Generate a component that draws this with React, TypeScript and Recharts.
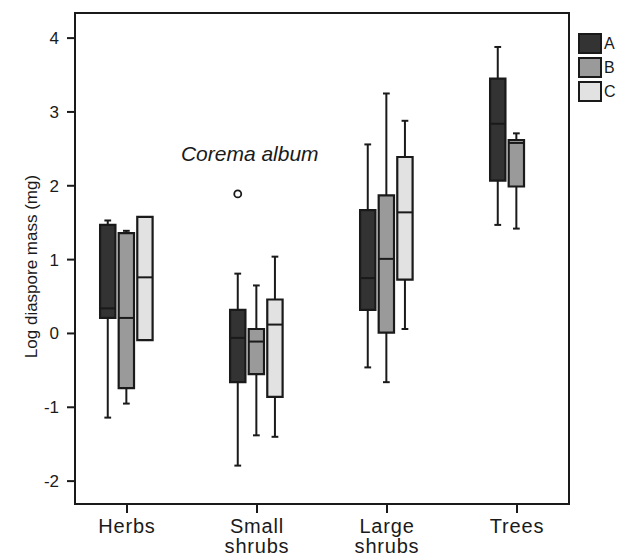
import React from 'react';
import {
  ComposedChart,
  XAxis,
  YAxis,
  ReferenceArea,
  ReferenceLine,
  ReferenceDot,
  Scatter,
  Legend,
} from 'recharts';

// ---------- data ----------
const categories = ['Herbs', 'Small shrubs', 'Large shrubs', 'Trees'];
const seriesNames = ['A', 'B', 'C'];
const seriesColors = ['#333333', '#9a9a9a', '#e2e2e2'];

// series A
const aMin = [-1.14, -1.79, -0.46, 1.47];
const aQ1 = [0.21, -0.66, 0.32, 2.07];
const aMed = [0.34, -0.06, 0.75, 2.84];
const aQ3 = [1.47, 0.32, 1.67, 3.45];
const aMax = [1.53, 0.81, 2.56, 3.88];

// series B
const bMin = [-0.95, -1.38, -0.66, 1.42];
const bQ1 = [-0.74, -0.55, 0.01, 1.99];
const bMed = [0.21, -0.11, 1.01, 2.58];
const bQ3 = [1.36, 0.06, 1.87, 2.62];
const bMax = [1.39, 0.65, 3.25, 2.71];

// series C (no trees)
const cMin = [-0.09, -1.4, 0.06, null];
const cQ1 = [-0.09, -0.86, 0.73, null];
const cMed = [0.76, 0.12, 1.64, null];
const cQ3 = [1.58, 0.46, 2.39, null];
const cMax = [1.58, 1.04, 2.88, null];

// outlier
const outlierCategory = 1; // Small shrubs
const outlierSeries = 0; // A
const outlierValue = 1.89;
const outlierLabel = 'Corema album';

const yTicks = [-2, -1, 0, 1, 2, 3, 4];
const xTicks = [0, 1, 2, 3];

// ---------- layout constants ----------
const FONT = "'Liberation Sans', Arial, Helvetica, sans-serif";
const INK = '#1a1a1a';
const seriesOffsets = [-0.148, -0.005, 0.138];
const halfBox = 0.059;
const capHalf = 0.026;
const X_DOMAIN: [number, number] = [-0.4, 3.4];
const Y_DOMAIN: [number, number] = [-2.31, 4.34];

type Stat = (number | null)[];
const seriesStats: Stat[][] = [
  [aMin, aQ1, aMed, aQ3, aMax],
  [bMin, bQ1, bMed, bQ3, bMax],
  [cMin, cQ1, cMed, cQ3, cMax],
];

interface Box {
  key: string;
  x: number;
  min: number;
  q1: number;
  med: number;
  q3: number;
  max: number;
  color: string;
}

const boxes: Box[] = [];
seriesStats.forEach((st, si) => {
  categories.forEach((_, ci) => {
    const med = st[2][ci];
    if (med === null || med === undefined) return;
    boxes.push({
      key: `${si}-${ci}`,
      x: ci + seriesOffsets[si],
      min: st[0][ci] as number,
      q1: st[1][ci] as number,
      med,
      q3: st[3][ci] as number,
      max: st[4][ci] as number,
      color: seriesColors[si],
    });
  });
});

const outlierData = [
  { x: outlierCategory + seriesOffsets[outlierSeries], y: outlierValue, name: outlierLabel },
];

const CatTick = (props: any) => {
  const { x, y, payload } = props;
  const label = categories[payload.value] ?? '';
  const lines = label.split(' ');
  return (
    <text x={x} y={y} textAnchor="middle" fontSize={20} fill={INK} fontFamily={FONT} letterSpacing={0.8}>
      {lines.map((l, i) => (
        <tspan key={i} x={x} dy={i === 0 ? 17 : 20}>
          {l}
        </tspan>
      ))}
    </text>
  );
};

const LegendContent = () => (
  <div style={{ fontFamily: FONT, fontSize: 16, color: INK }}>
    {seriesNames.map((n, i) => (
      <div key={n} style={{ display: 'flex', alignItems: 'center', height: 24 }}>
        <div
          style={{
            width: 24,
            height: 21,
            boxSizing: 'border-box',
            border: `2px solid ${INK}`,
            background: seriesColors[i],
          }}
        />
        <span style={{ marginLeft: 2, lineHeight: '21px' }}>{n}</span>
      </div>
    ))}
  </div>
);

export default function App() {
  const lineStyle = { stroke: INK, strokeWidth: 2 };
  return (
    <div style={{ position: 'absolute', left: 0, top: 0, background: '#fff' }}>
      <ComposedChart width={625} height={560} margin={{ top: 13, right: 56, left: 0, bottom: 0 }}>
        <XAxis
          type="number"
          dataKey="x"
          domain={X_DOMAIN}
          allowDataOverflow
          ticks={xTicks}
          interval={0}
          height={56}
          tickSize={9}
          tickMargin={3}
          tick={<CatTick />}
          axisLine={lineStyle}
          tickLine={lineStyle}
        />
        <YAxis
          type="number"
          dataKey="y"
          domain={Y_DOMAIN}
          allowDataOverflow
          ticks={yTicks}
          interval={0}
          width={75}
          tickSize={8}
          tickMargin={8}
          tick={{ fontSize: 17, fill: INK, fontFamily: FONT }}
          axisLine={lineStyle}
          tickLine={lineStyle}
          label={{
            content: (p: any) => {
              const vb = p.viewBox || { x: 0, y: 13, width: 75, height: 491 };
              const cx = vb.x + 31;
              const cy = vb.y + vb.height / 2 + 8;
              return (
                <text
                  x={cx}
                  y={cy}
                  transform={`rotate(-90 ${cx} ${cy})`}
                  textAnchor="middle"
                  dominantBaseline="central"
                  fontSize={17}
                  fill={INK}
                  fontFamily={FONT}
                >
                  Log diaspore mass (mg)
                </text>
              );
            },
          }}
        />
        {/* frame */}
        <ReferenceArea
          x1={X_DOMAIN[0]}
          x2={X_DOMAIN[1]}
          y1={Y_DOMAIN[0]}
          y2={Y_DOMAIN[1]}
          fill="none"
          stroke={INK}
          strokeWidth={2}
          ifOverflow="visible"
        />
        {/* whiskers */}
        {boxes.flatMap((b) => {
          const els: any[] = [];
          if (b.max > b.q3) {
            els.push(
              <ReferenceLine key={`wu${b.key}`} segment={[{ x: b.x, y: b.q3 }, { x: b.x, y: b.max }]} {...lineStyle} ifOverflow="visible" />,
              <ReferenceLine key={`cu${b.key}`} segment={[{ x: b.x - capHalf, y: b.max }, { x: b.x + capHalf, y: b.max }]} {...lineStyle} ifOverflow="visible" />
            );
          }
          if (b.min < b.q1) {
            els.push(
              <ReferenceLine key={`wl${b.key}`} segment={[{ x: b.x, y: b.q1 }, { x: b.x, y: b.min }]} {...lineStyle} ifOverflow="visible" />,
              <ReferenceLine key={`cl${b.key}`} segment={[{ x: b.x - capHalf, y: b.min }, { x: b.x + capHalf, y: b.min }]} {...lineStyle} ifOverflow="visible" />
            );
          }
          return els;
        })}
        {/* boxes */}
        {boxes.map((b) => (
          <ReferenceArea
            key={`b${b.key}`}
            x1={b.x - halfBox}
            x2={b.x + halfBox}
            y1={b.q1}
            y2={b.q3}
            fill={b.color}
            fillOpacity={1}
            stroke={INK}
            strokeWidth={2.2}
            ifOverflow="visible"
          />
        ))}
        {/* medians */}
        {boxes.map((b) => (
          <ReferenceLine
            key={`m${b.key}`}
            segment={[{ x: b.x - halfBox, y: b.med }, { x: b.x + halfBox, y: b.med }]}
            {...lineStyle}
            ifOverflow="visible"
          />
        ))}
        <Scatter
          data={outlierData}
          dataKey="y"
          isAnimationActive={false}
          shape={(p: any) => <circle cx={p.cx} cy={p.cy} r={3.5} fill="#fff" stroke={INK} strokeWidth={1.8} />}
        />
        <ReferenceDot
          x={outlierData[0].x}
          y={outlierData[0].y}
          r={3.5}
          fill="none"
          stroke="none"
          ifOverflow="visible"
          label={{
            content: (p: any) => {
              const vb = p.viewBox || { x: 0, y: 0, width: 0, height: 0 };
              const cx = vb.x + (vb.width || 0) / 2;
              const cy = vb.y + (vb.height || 0) / 2;
              return (
                <text
                  x={cx + 12}
                  y={cy - 33}
                  textAnchor="middle"
                  fontSize={21}
                  fontStyle="italic"
                  fill={INK}
                  fontFamily={FONT}
                >
                  {outlierData[0].name}
                </text>
              );
            },
          }}
        />
        <Legend
          layout="horizontal"
          verticalAlign="middle"
          align="center"
          wrapperStyle={{ left: 578, top: 31, width: 47, height: 75 }}
          content={() => <LegendContent />}
        />
      </ComposedChart>
    </div>
  );
}
